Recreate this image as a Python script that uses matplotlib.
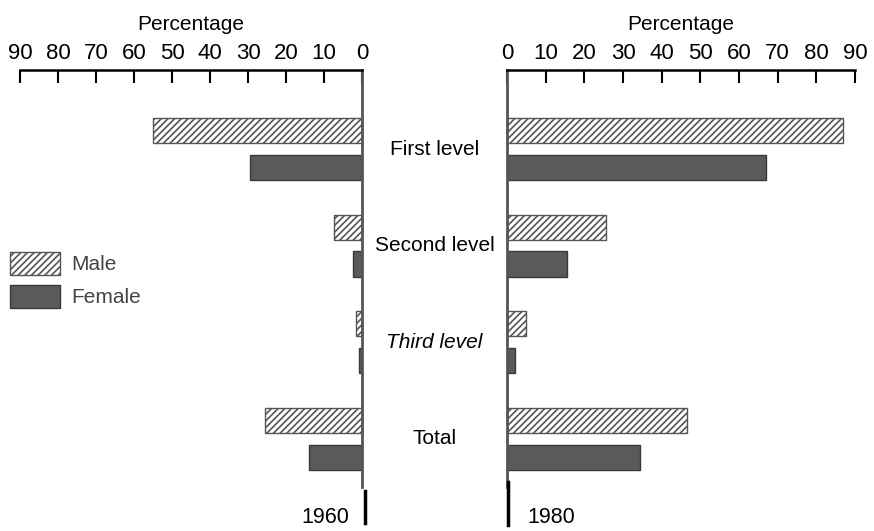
import numpy as np
import matplotlib
matplotlib.use("Agg")
import matplotlib.pyplot as plt
from matplotlib.patches import Patch
from matplotlib.lines import Line2D

plt.rcParams['font.family'] = ['Liberation Sans', 'DejaVu Sans']
plt.rcParams['hatch.linewidth'] = 1.2
plt.rcParams['hatch.color'] = '#555555'

levels = ['First level', 'Second level', 'Third level', 'Total']
male_1960 = [55, 7.5, 1.5, 25.5]
female_1960 = [29.5, 2.5, 0.8, 14]
male_1980 = [87, 25.5, 5, 46.5]
female_1980 = [67, 15.5, 2, 34.5]
ticks = [0, 10, 20, 30, 40, 50, 60, 70, 80, 90]

MALE_STYLE = dict(facecolor='white', edgecolor='#555555', hatch='/////', linewidth=1.0)
FEMALE_STYLE = dict(facecolor='#5a5a5a', edgecolor='#3a3a3a', linewidth=1.0)

fig = plt.figure(figsize=(8.74, 5.31), dpi=100)
ax_l = fig.add_axes([0.0229, 0.0829, 0.3913, 0.7853])
ax_r = fig.add_axes([0.5801, 0.0829, 0.3982, 0.7853])

y = np.arange(len(levels))
off = 0.19
h = 0.26


def style_axis(ax, zero_side):
    ax.set_xlim(0, 90)
    ax.set_ylim(3.5, -0.82)
    ax.xaxis.tick_top()
    ax.xaxis.set_label_position('top')
    ax.set_xticks(ticks)
    ax.set_xticklabels([str(t) for t in ticks])
    ax.tick_params(axis='x', direction='in', length=9, width=1.5, labelsize=16, pad=4, color='black')
    ax.set_yticks([])
    ax.set_xlabel('Percentage', fontsize=15, labelpad=10)
    for side in ['bottom', 'left', 'right']:
        ax.spines[side].set_visible(False)
    ax.spines['top'].set_linewidth(1.8)
    ax.spines[zero_side].set_visible(True)
    ax.spines[zero_side].set_linewidth(2.0)
    ax.spines[zero_side].set_color('#555555')
    ax.patch.set_alpha(0)


ax_l.barh(y - off, male_1960, height=h, **MALE_STYLE)
ax_l.barh(y + off, female_1960, height=h, **FEMALE_STYLE)
style_axis(ax_l, 'right')
ax_l.invert_xaxis()

ax_r.barh(y - off, male_1980, height=h, **MALE_STYLE)
ax_r.barh(y + off, female_1980, height=h, **FEMALE_STYLE)
style_axis(ax_r, 'left')

# category names sit in the gap between the two panels
mid_x = (0.4142 + 0.5801) / 2
for i, name in enumerate(levels):
    fy = ax_l.transData.transform((0, i))[1] / fig.bbox.height
    style = 'italic' if name == 'Third level' else 'normal'
    fig.text(mid_x, fy, name, ha='center', va='center', fontsize=15, style=style)

# year markers under the zero lines
fig.add_artist(Line2D([0.4176, 0.4176], [0.0753, 0.0151], color='black', lw=2.5))
fig.text(0.4000, 0.0245, '1960', ha='right', va='center', fontsize=15.5)
fig.add_artist(Line2D([0.5812, 0.5812], [0.0923, 0.0113], color='black', lw=2.5))
fig.text(0.603, 0.0245, '1980', ha='left', va='center', fontsize=15.5)

handles = [Patch(label='Male', **MALE_STYLE), Patch(label='Female', **FEMALE_STYLE)]
leg = fig.legend(handles=handles, loc='upper left', bbox_to_anchor=(10 / 874, 1 - 252 / 531),
                 frameon=False, fontsize=15, handlelength=2.4, handleheight=1.3,
                 labelspacing=0.5, handletextpad=0.55, borderpad=0, borderaxespad=0)
for t in leg.get_texts():
    t.set_color('#444444')

fig.savefig('out.png', dpi=100)
